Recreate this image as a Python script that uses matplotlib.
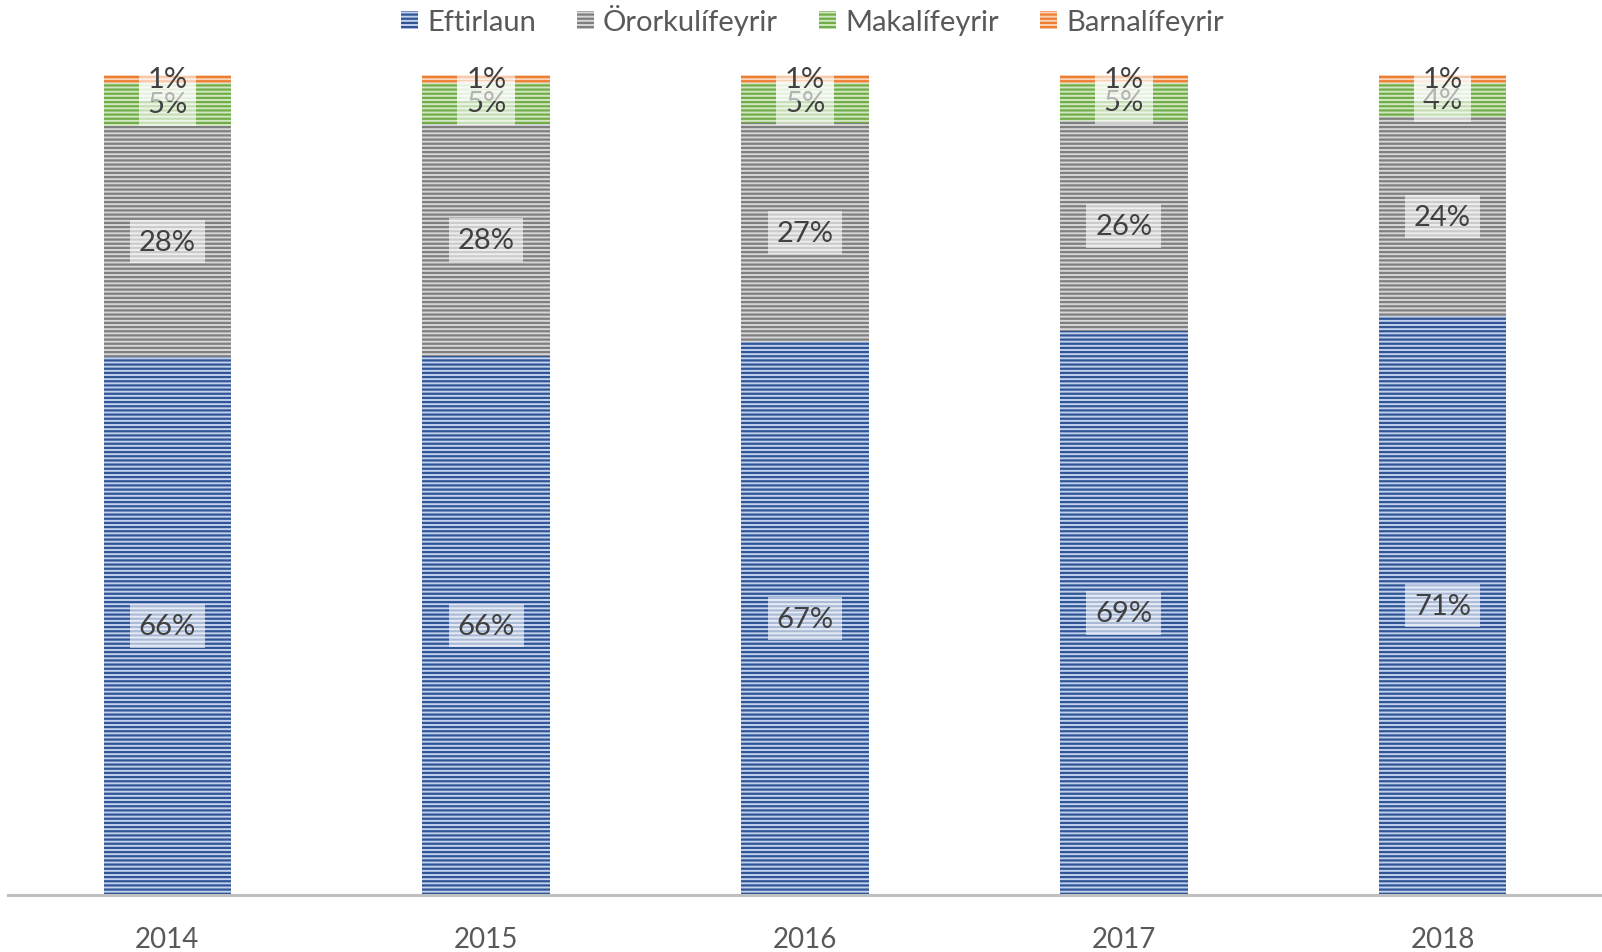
import matplotlib
matplotlib.use("Agg")
import matplotlib.pyplot as plt
import matplotlib.patches as mpatches
import numpy as np

plt.rcParams['font.family'] = ['Lato', 'DejaVu Sans']
plt.rcParams['hatch.linewidth'] = 1.6

years = ["2014", "2015", "2016", "2017", "2018"]
series_names = ["Eftirlaun", "Örorkulífeyrir", "Makalífeyrir", "Barnalífeyrir"]
eftirlaun = [65.6, 65.7, 67.4, 68.8, 70.6]
ororku = [28.2, 28.4, 26.8, 25.6, 24.3]
maka = [5.3, 5.0, 4.8, 4.6, 4.1]
barna = [0.9, 0.9, 1.0, 1.0, 1.0]
values = [eftirlaun, ororku, maka, barna]

dark = ["#2F5597", "#7F7F7F", "#70AD47", "#ED7D31"]
light = ["#C3D1EC", "#D6D6D6", "#D2E8C4", "#F9D3B8"]

fig = plt.figure(figsize=(16.02, 9.53), dpi=100)
ax = fig.add_axes([0.005, 0.0598, 0.995, 0.8602])

x = np.arange(len(years))
bottom = np.zeros(len(years))
handles = []
for name, vals, dc, lc in zip(series_names, values, dark, light):
    vals = np.array(vals)
    ax.bar(x, vals, width=0.4, bottom=bottom, facecolor=lc,
           edgecolor=dc, linewidth=0, hatch='----', label=name)
    for xi, b, v in zip(x, bottom, vals):
        ax.text(xi, b + v / 2, f"{int(np.floor(v + 0.5))}%", ha='center', va='center',
                fontsize=21, color='#404040',
                bbox=dict(boxstyle='square,pad=0.3', facecolor='white',
                          edgecolor='none', alpha=0.6))
    bottom = bottom + vals
    handles.append(mpatches.Patch(facecolor=lc, edgecolor=dc, linewidth=0,
                                  hatch='----', label=name))

ax.set_xlim(-0.5, 4.5)
ax.set_ylim(0, 100)
ax.set_xticks(x)
ax.set_xticklabels(years, fontsize=20, color='#595959')
ax.tick_params(axis='x', length=0, pad=22)
ax.set_yticks([])
for s in ['top', 'right', 'left']:
    ax.spines[s].set_visible(False)
ax.spines['bottom'].set_color('#BFBFBF')
ax.spines['bottom'].set_linewidth(2.2)

leg = fig.legend(handles=handles, loc='upper center', bbox_to_anchor=(0.507, 1.022),
                 ncol=4, frameon=False, fontsize=21, handlelength=0.6,
                 handleheight=0.6, handletextpad=0.3, columnspacing=1.4)
for t in leg.get_texts():
    t.set_color('#595959')

fig.savefig("out.png", dpi=100)
